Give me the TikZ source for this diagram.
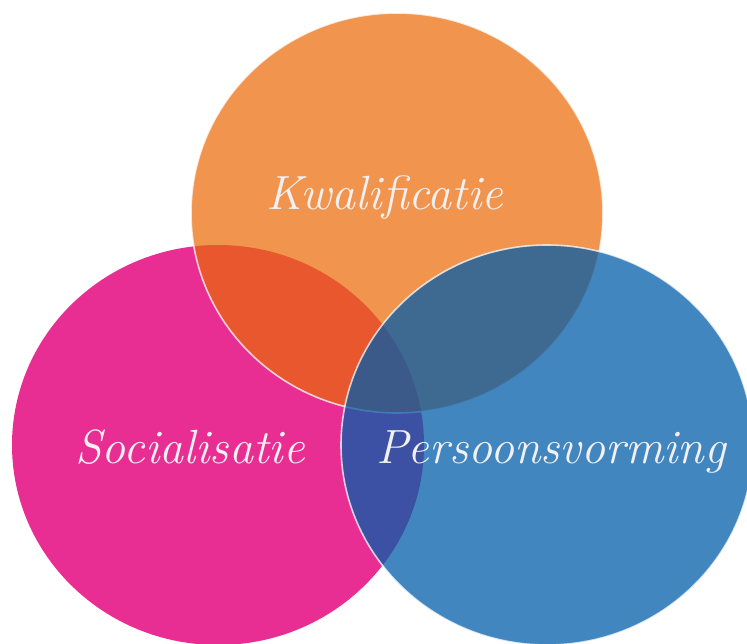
\documentclass[tikz,border=0pt]{standalone}
\usepackage{tikz}
\usepackage{color}
\definecolor{socpink}{RGB}{233,46,147}
\definecolor{kwaorange}{RGB}{234,104,6}
\definecolor{perblue}{RGB}{0,92,170}
\definecolor{labelwhite}{RGB}{243,240,242}

\begin{document}
\begin{tikzpicture}[x=1pt, y=-1pt,
				   every node/.style={text=labelwhite, anchor=base, font=\fontsize{48}{54}\selectfont\itshape},
				   setrim/.style={draw=white, draw opacity=0.75, line width=1.6pt}]
\useasboundingbox (0,0) rectangle (747,644);
\fill[socpink] (218,445) ellipse [x radius=206, y radius=200];
\filldraw[setrim, fill=kwaorange, fill opacity=0.71] (397,213) ellipse [x radius=206, y radius=200];
\filldraw[setrim, fill=perblue, fill opacity=0.74] (547,445) ellipse [x radius=206, y radius=200];
\node (kwalificatie) at (385,210) {Kwalificatie};
\node (socialisatie) at (190,463) {Socialisatie};
\node (persoonsvorming) at (551,463) {Persoonsvorming};
\end{tikzpicture}
\end{document}
